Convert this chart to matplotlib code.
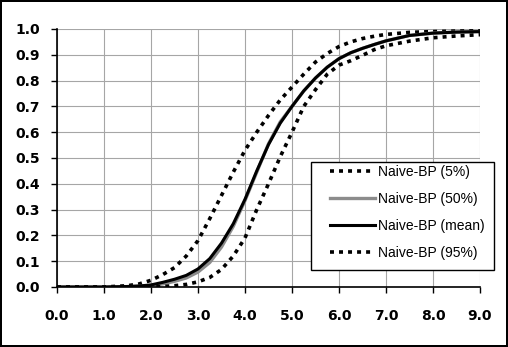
import numpy as np
import matplotlib
matplotlib.use("Agg")
import matplotlib.pyplot as plt
from matplotlib.patches import Rectangle

# values
x = [0.0, 0.5, 1.0, 1.5, 1.75, 2.0, 2.25, 2.5, 2.75, 3.0, 3.25, 3.5, 3.75,
     4.0, 4.25, 4.5, 4.75, 5.0, 5.25, 5.5, 5.75, 6.0, 6.25, 6.5, 6.75, 7.0,
     7.5, 8.0, 8.5, 9.0]
p5 = [0.0, 0.0, 0.0, 0.005, 0.012, 0.026, 0.048, 0.075, 0.12, 0.18, 0.265,
      0.355, 0.445, 0.53, 0.6, 0.665, 0.725, 0.775, 0.825, 0.872, 0.905,
      0.932, 0.95, 0.963, 0.972, 0.979, 0.987, 0.99, 0.992, 0.993]
p50 = [0.0, 0.0, 0.0, 0.001, 0.003, 0.006, 0.012, 0.022, 0.035, 0.058,
       0.095, 0.155, 0.235, 0.335, 0.445, 0.555, 0.64, 0.70, 0.76, 0.81,
       0.852, 0.885, 0.908, 0.925, 0.94, 0.954, 0.975, 0.984, 0.988, 0.99]
mean = [0.0, 0.0, 0.0, 0.002, 0.004, 0.008, 0.018, 0.03, 0.045, 0.07, 0.11,
        0.17, 0.245, 0.34, 0.45, 0.552, 0.635, 0.70, 0.76, 0.81, 0.852,
        0.885, 0.908, 0.925, 0.94, 0.954, 0.975, 0.984, 0.988, 0.99]
p95 = [0.0, 0.0, 0.0, 0.0, 0.0, 0.0, 0.002, 0.005, 0.01, 0.02, 0.037, 0.068,
       0.12, 0.19, 0.3, 0.4, 0.505, 0.6, 0.70, 0.765, 0.825, 0.86, 0.877,
       0.898, 0.92, 0.935, 0.953, 0.966, 0.973, 0.978]
labels = ["Naive-BP (5%)", "Naive-BP (50%)", "Naive-BP (mean)", "Naive-BP (95%)"]

W, H = 508, 347
fig = plt.figure(figsize=(W / 100, H / 100), dpi=100, edgecolor="black", linewidth=1.5)
ax = fig.add_axes([57 / W, 1 - 287 / H, 423 / W, 258 / H])

dots = (0, (1.1, 1.4))
ax.plot(x, p5, color="black", lw=2.6, ls=dots, dash_capstyle="butt", label=labels[0])
ax.plot(x, p50, color="#8c8c8c", lw=2.4, label=labels[1])
ax.plot(x, mean, color="black", lw=2.2, label=labels[2])
ax.plot(x, p95, color="black", lw=2.6, ls=dots, dash_capstyle="butt", label=labels[3])

ax.set_xlim(0, 9)
ax.set_ylim(0, 1)
ax.set_xticks(np.arange(0, 9.5, 1.0))
ax.set_yticks(np.arange(0, 1.05, 0.1))
ax.xaxis.set_major_formatter(matplotlib.ticker.FormatStrFormatter("%.1f"))
ax.yaxis.set_major_formatter(matplotlib.ticker.FormatStrFormatter("%.1f"))
ax.grid(True, color="#a6a6a6", lw=0.8)
ax.set_axisbelow(True)
for side in ["top", "right"]:
    ax.spines[side].set_visible(False)
for side in ["left", "bottom"]:
    ax.spines[side].set_linewidth(1.2)
ax.tick_params(axis="y", length=4, width=1, pad=8)
ax.tick_params(axis="x", length=4.5, width=1, pad=11)
for lab in ax.get_xticklabels() + ax.get_yticklabels():
    lab.set_fontfamily("DejaVu Sans")
    lab.set_fontweight("bold")
    lab.set_fontsize(10)

# legend frame drawn separately so the inner padding can match the original
frame = Rectangle((311 / W, 1 - 270 / H), 183 / W, 108 / H, transform=fig.transFigure,
                  facecolor="white", edgecolor="black", lw=1.0, zorder=4.5, clip_on=False)
ax.add_patch(frame)
leg = ax.legend(loc="upper left", bbox_to_anchor=(330 / W, 1 - 165 / H),
                bbox_transform=fig.transFigure, borderaxespad=0, borderpad=0,
                prop={"family": "Liberation Sans", "size": 10},
                handlelength=3.25, handletextpad=0.2, labelspacing=0.93,
                frameon=False)

fig.savefig("out.png", dpi=100)
